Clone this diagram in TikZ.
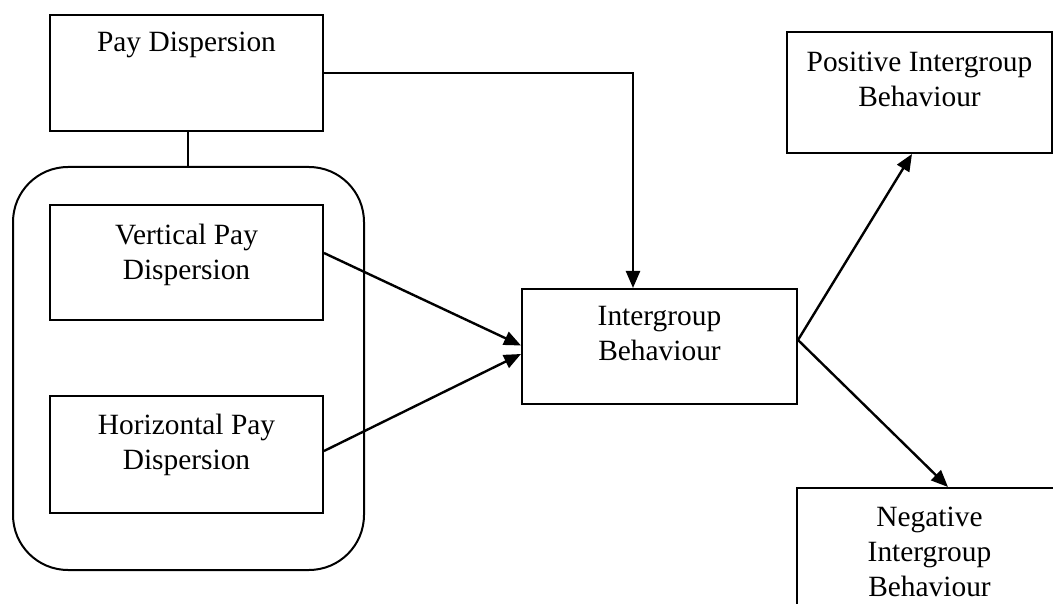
\documentclass[tikz,border=0pt]{standalone}
\usepackage{fontspec}
\setmainfont{Liberation Serif}
\usetikzlibrary{arrows.meta,positioning}

\tikzset{
	box/.style={draw, line width=2pt, minimum width=273pt, minimum height=115pt, inner sep=0pt},
	lbl/.style={font=\fontsize{29.4}{35}\selectfont, align=center, inner sep=0pt},
	link/.style={line width=2.4pt},
	arr/.style={link, -{Triangle[length=17pt,width=14pt]}},
}

\begin{document}
	\begin{tikzpicture}[x=1pt, y=-1pt]
		\useasboundingbox (0,0) rectangle (1053,604);
		\clip (0,0) rectangle (1053,604);

		\node[box, minimum height=116pt] (pay) at (186.5,73) {};
		\node[lbl] (paytext) at ([yshift=-31pt]pay.north) {Pay Dispersion};

		\node[draw, line width=2pt, rounded corners=55pt, minimum width=351pt, minimum height=403pt] (group) at (188.5,368.5) {};

		\node[box] (vert) at (186.5,262.5) {};
		\node[lbl] (verttext) at ([yshift=-51pt]vert.north) {Vertical Pay\\Dispersion};

		\node[box, minimum height=117pt] (horiz) at (186.5,454.5) {};
		\node[lbl] (heartext) at ([yshift=-50pt]horiz.north) {Horizontal Pay\\Dispersion};

		\node[box, minimum width=275pt] (inter) at (659.5,346.5) {};
		\node[lbl] (intertext) at ([yshift=-46pt]inter.north) {Intergroup\\Behaviour};

		\node[box, minimum width=265pt, minimum height=121pt] (pos) at (919.5,92.5) {};
		\node[lbl] (postext) at ([yshift=-48pt]pos.north) {Positive Intergroup\\Behaviour};

		\node[box, minimum width=265pt, minimum height=130pt] (neg) at (929.5,553) {};
		\node[lbl] (negtext) at ([yshift=-65pt]neg.north) {Negative\\Intergroup\\Behaviour};

		\draw[line width=2pt] ([xshift=1.5pt]pay.south) -- ([xshift=1.5pt]pay.south |- group.north);

		\begin{scope}[arr]
			\draw (pay.east) -| ([xshift=-26.5pt]inter.north);
			\draw ([yshift=9.5pt]vert.east) -- ([yshift=1pt]inter.west);
			\draw ([yshift=3.5pt]horiz.east) -- ([yshift=-7.5pt]inter.west);
			\draw ([yshift=6.5pt]inter.east) -- ([xshift=-7.5pt]pos.south);
			\draw ([yshift=6.5pt]inter.east) -- ([xshift=18.5pt]neg.north);
		\end{scope}
	\end{tikzpicture}
\end{document}
